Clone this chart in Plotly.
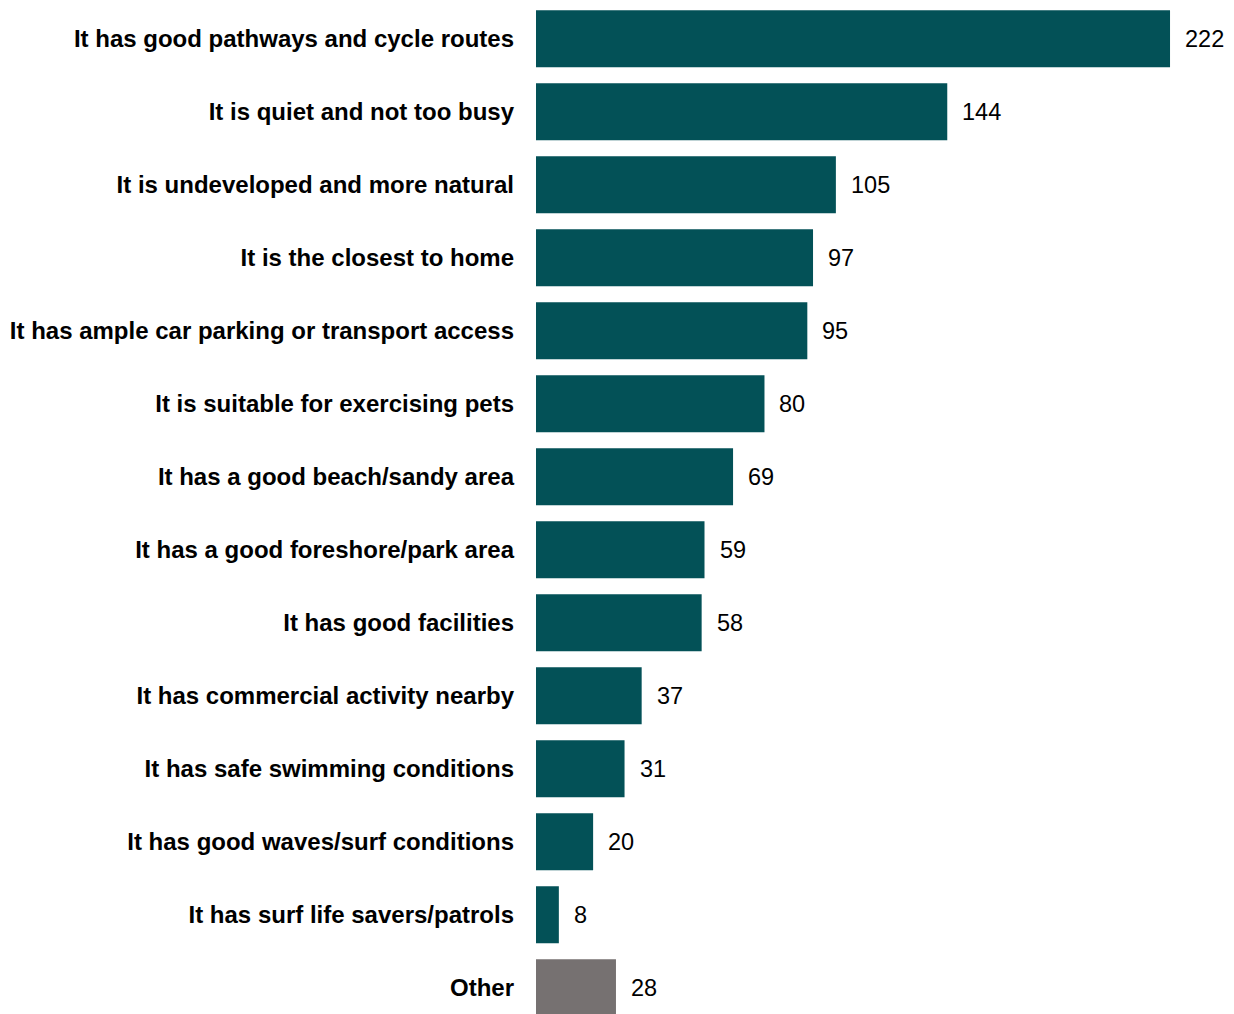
import plotly.graph_objects as go

categories = [
    "It has good pathways and cycle routes",
    "It is quiet and not too busy",
    "It is undeveloped and more natural",
    "It is the closest to home",
    "It has ample car parking or transport access",
    "It is suitable for exercising pets",
    "It has a good beach/sandy area",
    "It has a good foreshore/park area",
    "It has good facilities",
    "It has commercial activity nearby",
    "It has safe swimming conditions",
    "It has good waves/surf conditions",
    "It has surf life savers/patrols",
    "Other",
]
values = [222, 144, 105, 97, 95, 80, 69, 59, 58, 37, 31, 20, 8, 28]
colors = ["#035157"] * 13 + ["#767171"]

fig = go.Figure()
fig.add_trace(go.Bar(
    x=values, y=categories, orientation="h",
    marker=dict(color=colors, line=dict(width=0)),
    width=0.78, hoverinfo="skip",
))
for c, v in zip(categories, values):
    fig.add_annotation(x=v, y=c, text=str(v), showarrow=False, xanchor="left",
                       xshift=13, font=dict(family="Arial, Liberation Sans", size=23.5, color="#000"))

fig.update_layout(
    width=1226, height=1006,
    margin=dict(l=528, r=0, t=0, b=0),
    paper_bgcolor="white", plot_bgcolor="white",
    showlegend=False,
    xaxis=dict(range=[0, 244.4], visible=False, showgrid=False, zeroline=False),
    yaxis=dict(categoryorder="array", categoryarray=categories,
               range=[13.36, -0.42], showgrid=False, zeroline=False,
               ticks="", ticklabelstandoff=21,
               tickfont=dict(family="Arial, Liberation Sans", size=24, color="#000", weight="bold")),
)
fig.write_html("out.html")
